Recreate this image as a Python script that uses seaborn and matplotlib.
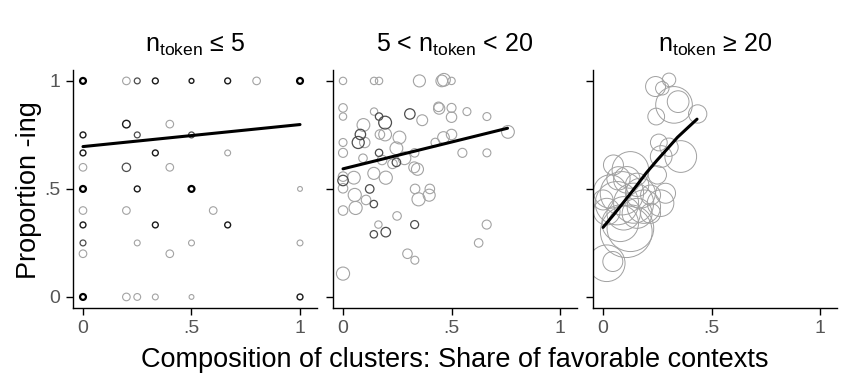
import numpy as np
import pandas as pd
import matplotlib
matplotlib.use("Agg")
import matplotlib.pyplot as plt
import seaborn as sns

# ---- data ----
titles = [r"$\mathregular{n_{token}}$ ≤ 5",
          r"5 < $\mathregular{n_{token}}$ < 20",
          r"$\mathregular{n_{token}}$ ≥ 20"]
tick_vals = [0, 0.5, 1]
tick_labels = ["0", ".5", "1"]

# panel 1: n_token <= 5 (x, y, weight, overlap level)
x1 = [0, .2, .25, 1/3, .5, 2/3, .8, 1,
      .2, .4,
      0, .25, .5,
      0, 1/3, 2/3,
      0, .2, .4,
      0, .25, .5, 1,
      0, .2, .6,
      0, 1/3, 2/3,
      0, .25, .5, 1,
      0, .4,
      0, .2, .25, 1/3, .5, 1]
y1 = [1, 1, 1, 1, 1, 1, 1, 1,
      .8, .8,
      .75, .75, .75,
      2/3, 2/3, 2/3,
      .6, .6, .6,
      .5, .5, .5, .5,
      .4, .4, .4,
      1/3, 1/3, 1/3,
      .25, .25, .25, .25,
      .2, .2,
      0, 0, 0, 0, 0, 0]
w1 = [3, 5, 3, 3, 2, 3, 5, 3,
      5, 5,
      3, 3, 3,
      3, 3, 3,
      5, 6, 5,
      3, 3, 3, 2,
      5, 5, 5,
      3, 3, 3,
      3, 3, 3, 3,
      5, 5,
      3, 5, 4, 3, 2, 3]
k1 = [4, 1, 2, 3, 3, 3, 1, 4,
      3, 1,
      3, 2, 2,
      3, 3, 1,
      1, 2, 1,
      4, 3, 4, 1,
      1, 1, 1,
      3, 3, 3,
      2, 1, 1, 1,
      1, 1,
      4, 1, 1, 1, 1, 3]

# panel 2: 5 < n_token < 20
x2 = [0, .143, .166, .352, .455, .465, .5,
      0, 0, .143, .166, .194, .308, .365, .44, .443, .5, .5, .571, .663, .76,
      .094, .08, .07, 0, .1, .17, .194, .26,
      0, .166, .246, .33, .425, .463, .5, .55, .663,
      .092, .18, .246, .283, .228, .328, .343,
      0, 0, 0, .05, .142, .197, .123,
      .054, .058, 0, .142, .106, .332, .4, .348, .397,
      .249, .163, .142, .197, .33, .662, .625, .297, .331, 0]
y2 = [1, 1, 1, 1, 1, 1.005, 1,
      .875, .835, .858, .835, .807, .847, .818, .88, .872, .875, .832, .858, .835, .764,
      .796, .752, .715, .715, .715, .752, .752, .738,
      .667, .667, .688, .667, .715, .738, .752, .667, .667,
      .642, .634, .623, .642, .616, .6, .591,
      .557, .539, .503, .552, .572, .552, .5,
      .472, .412, .4, .43, .449, .5, .5, .452, .471,
      .375, .335, .29, .3, .335, .335, .25, .2, .17, .108]
w2 = [6, 6, 6, 16, 15, 18, 6,
      8, 6, 6, 6, 18, 12, 13, 10, 14, 9, 12, 7, 7, 18,
      18, 12, 16, 7, 12, 10, 18, 18,
      9, 6, 18, 8, 8, 15, 12, 9, 7,
      8, 10, 8, 18, 10, 13, 16,
      10, 12, 10, 18, 16, 19, 8,
      19, 19, 10, 6, 10, 10, 10, 19, 16,
      8, 6, 6, 10, 7, 9, 8, 10, 7, 19]
k2 = [1, 1, 1, 1, 1, 1, 1,
      1, 1, 1, 2, 2, 2, 1, 1, 1, 1, 1, 1, 1, 1,
      1, 2, 2, 1, 1, 1, 1, 1,
      1, 2, 1, 1, 1, 1, 1, 1, 1,
      1, 1, 2, 1, 1, 1, 1,
      1, 2, 1, 1, 1, 1, 2,
      1, 1, 1, 2, 1, 1, 1, 1, 1,
      1, 1, 2, 2, 2, 1, 1, 1, 1, 1]

# panel 3: n_token >= 20
x3 = [.304, .242, .273, .346, .327, .245, .436, .257, .304, .358, .268,
      .048, .126, .25,
      .071, .110, .157, .033, .087, .172, .219, .288, 0, .064, .141, .188,
      .265, .017, .095, .157, .219, .079, .126, .107, .017, .045]
y3 = [1.005, .974, .966, .904, .889, .835, .847, .715, .693, .65, .65,
      .611, .588, .565,
      .549, .542, .519, .488, .48, .48, .472, .48, .449, .434, .434, .418,
      .434, .395, .387, .387, .387, .341, .318, .302, .156, .164]
w3 = [20, 44, 20, 52, 148, 31, 37, 31, 37, 111, 52,
      44, 148, 37,
      60, 78, 60, 123, 207, 99, 44, 44, 44, 207, 177, 123,
      78, 78, 123, 99, 44, 148, 240, 295, 148, 44]
k3 = [1] * len(x3)

# fitted curves
fit1_x = [0, 1]
fit1_y = [.696, .798]
fit2_x = [0, .758]
fit2_y = [.593, .781]
fit3_x = [0, .05, .126, .2, .25, .3, .343, .39, .433]
fit3_y = [.322, .382, .478, .575, .634, .69, .739, .783, .823]

panels = [(x1, y1, w1, k1, fit1_x, fit1_y),
          (x2, y2, w2, k2, fit2_x, fit2_y),
          (x3, y3, w3, k3, fit3_x, fit3_y)]

sns.set_theme(style="ticks")
plt.rcParams["font.family"] = ["Liberation Sans", "DejaVu Sans"]
plt.rcParams["mathtext.fontset"] = "custom"
plt.rcParams["mathtext.rm"] = "Liberation Sans"
plt.rcParams["text.color"] = "black"

level_style = {1: ("#a3a3a3", 0.8), 2: ("#4d4d4d", 0.9),
               3: ("#1a1a1a", 1.0), 4: ("#000000", 1.6)}
size_scale = [6.0, 4.7, 4.7]

fig, axes = plt.subplots(1, 3, figsize=(8.44, 3.84), dpi=100, sharey=True)
fig.subplots_adjust(left=0.0865, right=0.9917, bottom=0.198, top=0.818,
                    wspace=0.066)

for i, (ax, (x, y, w, k, fx, fy)) in enumerate(zip(axes, panels)):
    df = pd.DataFrame({"x": x, "y": y, "w": w, "k": k})
    for lvl, sub in df.groupby("k"):
        col, lw = level_style[lvl]
        if i == 2:
            col, lw = "#a0a0a0", 0.7
        sns.scatterplot(data=sub, x="x", y="y",
                        s=sub["w"].to_numpy() * size_scale[i],
                        facecolor="none", edgecolor=col, linewidth=lw,
                        ax=ax, legend=False)
    sns.lineplot(x=fx, y=fy, color="black", linewidth=2.2, ax=ax)

    ax.set_xlim(-0.046, 1.078)
    ax.set_ylim(-0.051, 1.051)
    ax.set_xticks(tick_vals)
    ax.set_xticklabels(tick_labels)
    ax.set_yticks(tick_vals)
    ax.set_yticklabels(tick_labels)
    ax.tick_params(length=5, width=1, color="black", labelcolor="#555555",
                   labelsize=14, pad=4)
    ax.set_xlabel("")
    ax.set_ylabel("")
    ax.set_title(titles[i], fontsize=18, pad=13)
    for sp in ["left", "bottom"]:
        ax.spines[sp].set_linewidth(1)
        ax.spines[sp].set_color("black")
    sns.despine(ax=ax)

fig.text(29 / 844, 1 - 190 / 384, "Proportion -ing", fontsize=19.5,
         rotation=90, ha="center", va="center")
fig.text(0.539, 0.044, "Composition of clusters: Share of favorable contexts",
         fontsize=19.5, ha="center", va="baseline")

fig.savefig("out.png", dpi=100)
